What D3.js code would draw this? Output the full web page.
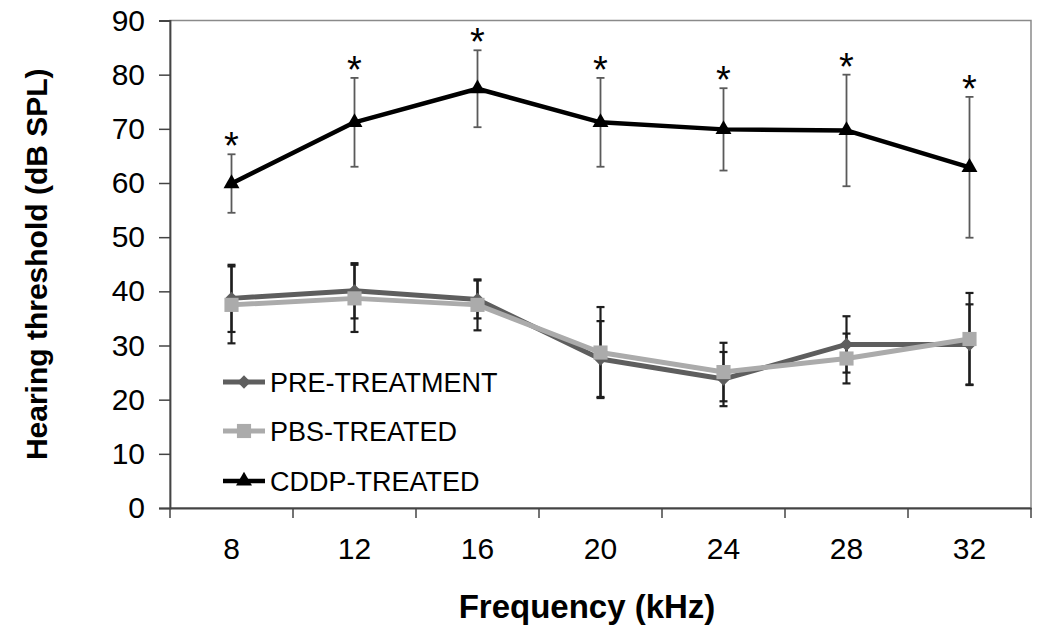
<!DOCTYPE html>
<html>
<head>
<meta charset="utf-8">
<script src="https://cdn.jsdelivr.net/npm/d3@7"></script>
<style>
    body { margin: 0; background: white; }
    svg { display: block; font-family: Arial, 'Liberation Sans', sans-serif; }
</style>
</head>
<body>
<svg id="chart" width="1037" height="634"></svg>
<script>
// values (mean and SD, dB SPL)
const freqs = ['8', '12', '16', '20', '24', '28', '32']
const preMean = [38.7, 40.1, 38.5, 27.5, 23.8, 30.2, 30.2]
const preSd = [6.2, 5.1, 3.5, 7.0, 5.0, 5.2, 7.4]
const pbsMean = [37.5, 38.7, 37.5, 28.7, 25.1, 27.6, 31.2]
const pbsSd = [7.1, 6.2, 4.7, 8.4, 5.4, 4.6, 8.5]
const cddpMean = [59.9, 71.2, 77.4, 71.2, 69.9, 69.7, 62.9]
const cddpSd = [5.4, 8.2, 7.1, 8.2, 7.6, 10.3, 13.0]
const significant = [true, true, true, true, true, true, true]
const yTicks = [0, 10, 20, 30, 40, 50, 60, 70, 80, 90]

const svg = d3.select('#chart')
const plotLeft = 170, plotRight = 1031, plotTop = 20.5, plotBottom = 508

const x = d3.scaleBand().domain(freqs).range([plotLeft, plotRight])
const y = d3.scaleLinear().domain([0, 90]).range([plotBottom, plotTop])

// plot area frame (top and right sides show in grey)
svg.append('rect')
    .attr('x', plotLeft).attr('y', plotTop)
    .attr('width', plotRight - plotLeft).attr('height', plotBottom - plotTop)
    .attr('fill', 'none')
    .attr('stroke', '#8a8a8a')
    .attr('stroke-width', 1.5)

// axes
const yAxis = svg.append('g')
    .attr('transform', 'translate(' + plotLeft + ',0)')
    .call(d3.axisLeft(y).tickValues(yTicks).tickSize(11).tickPadding(14))
const xAxis = svg.append('g')
    .attr('transform', 'translate(0,' + plotBottom + ')')
    .call(d3.axisBottom(x).tickSize(0).tickPadding(30))

// excel style ticks sit between categories
const bounds = freqs.map(d => x(d)).concat([plotRight])
xAxis.selectAll('.cat-tick')
    .data(bounds)
    .enter()
    .append('line')
    .attr('class', 'cat-tick')
    .attr('x1', d => d).attr('x2', d => d)
    .attr('y1', 0).attr('y2', 10)
    .attr('stroke', '#444')
    .attr('stroke-width', 1.5)

svg.selectAll('.domain').attr('stroke', '#444').attr('stroke-width', 1.8)
yAxis.selectAll('.tick line').attr('stroke', '#444').attr('stroke-width', 1.5)
yAxis.selectAll('text').style('font-size', '30px').attr('fill', '#000')
xAxis.selectAll('.tick text').style('font-size', '30px').attr('fill', '#000')

// axis titles
svg.append('text')
    .attr('transform', 'translate(47,' + ((plotTop + plotBottom) / 2) + ') rotate(-90)')
    .attr('text-anchor', 'middle')
    .style('font-size', '30px')
    .style('font-weight', 'bold')
    .text('Hearing threshold (dB SPL)')

svg.append('text')
    .attr('x', 587).attr('y', 618)
    .attr('text-anchor', 'middle')
    .style('font-size', '33px')
    .style('font-weight', 'bold')
    .text('Frequency (kHz)')

const series = [
    {name: 'PRE-TREATMENT', mean: preMean, sd: preSd, color: '#5e5e5e', bar: '#1e1e1e', barWidth: 2.2,
        symbol: d3.symbolSquare, size: 88, rotate: 45, lineWidth: 5},
    {name: 'PBS-TREATED', mean: pbsMean, sd: pbsSd, color: '#ababab', bar: '#1e1e1e', barWidth: 2.2,
        symbol: d3.symbolSquare, size: 200, rotate: 0, lineWidth: 5},
    {name: 'CDDP-TREATED', mean: cddpMean, sd: cddpSd, color: '#000', bar: '#5a5a5a', barWidth: 1.8,
        symbol: d3.symbolTriangle, size: 110, rotate: 0, lineWidth: 4.5}
]

const cx = d => x(d) + x.bandwidth() / 2
const capHalf = 4

// error bars first, lines and markers on top
series.forEach(function(s){
    const g = svg.append('g').attr('class', 'err')
    freqs.forEach(function(f, i){
        const hi = y(s.mean[i] + s.sd[i])
        const lo = y(s.mean[i] - s.sd[i])
        g.append('line')
            .attr('x1', cx(f)).attr('x2', cx(f))
            .attr('y1', hi).attr('y2', lo)
            .attr('stroke', s.bar).attr('stroke-width', s.barWidth)
        ;[hi, lo].forEach(function(v){
            g.append('line')
                .attr('x1', cx(f) - capHalf).attr('x2', cx(f) + capHalf)
                .attr('y1', v).attr('y2', v)
                .attr('stroke', s.bar).attr('stroke-width', s.barWidth)
        })
    })
})

const line = d3.line()
    .x((d, i) => cx(freqs[i]))
    .y(d => y(d))

series.forEach(function(s){
    svg.append('path')
        .datum(s.mean)
        .attr('d', line)
        .attr('fill', 'none')
        .attr('stroke', s.color)
        .attr('stroke-width', s.lineWidth)
        .attr('stroke-linejoin', 'round')

    svg.selectAll('.mark-' + s.name)
        .data(s.mean)
        .enter()
        .append('path')
        .attr('transform', (d, i) => 'translate(' + cx(freqs[i]) + ',' + y(d) + ') rotate(' + s.rotate + ')')
        .attr('d', d3.symbol().type(s.symbol).size(s.size))
        .attr('fill', s.color)
})

// significance stars above the CDDP error bars
svg.selectAll('.star')
    .data(cddpMean.filter((d, i) => significant[i]))
    .enter()
    .append('text')
    .attr('class', 'star')
    .attr('x', (d, i) => cx(freqs[i]))
    .attr('y', (d, i) => y(d + cddpSd[i]) + 5)
    .attr('text-anchor', 'middle')
    .style('font-size', '38px')
    .text('*')

// legend
const legendY = [382, 431, 481]
series.forEach(function(s, i){
    const ly = legendY[i]
    svg.append('line')
        .attr('x1', 223).attr('x2', 265)
        .attr('y1', ly).attr('y2', ly)
        .attr('stroke', s.color).attr('stroke-width', s.lineWidth)
    svg.append('path')
        .attr('transform', 'translate(244,' + ly + ') rotate(' + s.rotate + ')')
        .attr('d', d3.symbol().type(s.symbol).size(s.size))
        .attr('fill', s.color)
    svg.append('text')
        .attr('x', 270).attr('y', ly + 10)
        .style('font-size', '27px')
        .text(s.name)
})
</script>
</body>
</html>
